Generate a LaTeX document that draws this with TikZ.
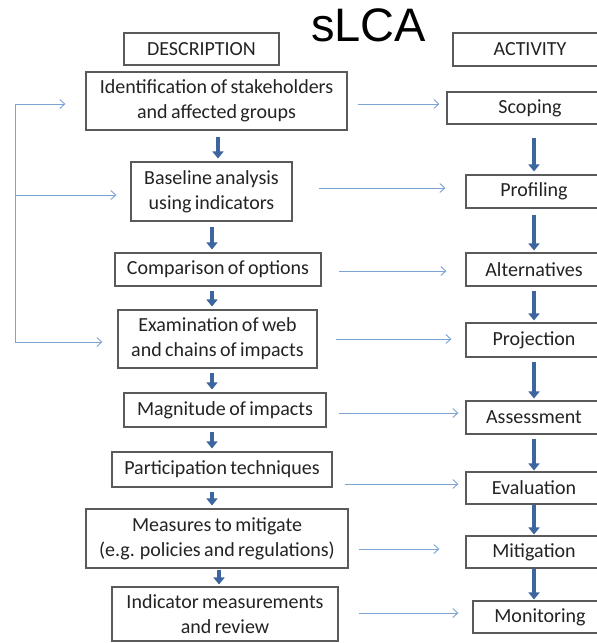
\documentclass[tikz,border=0pt]{standalone}
\usepackage{fontspec}
\setmainfont{Carlito}
\newfontfamily\titlefont{Liberation Sans}
\usetikzlibrary{arrows.meta,calc}
\definecolor{thickblue}{RGB}{62,102,158}
\definecolor{thinblue}{RGB}{125,163,212}
\definecolor{boxline}{RGB}{90,90,90}
\definecolor{boxtext}{RGB}{35,35,35}
\newcommand\myboxfont{\fontsize{20}{25}\selectfont\spaceskip=3.4pt plus 1pt minus 0.5pt\relax}
\begin{document}
\begin{tikzpicture}[x=1pt,y=-1pt,
  box/.style={draw=boxline,line width=1.1pt,fill=white,inner sep=0pt,align=center,
    text=boxtext,font=\myboxfont},
  flowarrow/.style={draw=thickblue,line width=4.5pt,-{Triangle[width=11pt,length=7pt]}},
  linkarrow/.style={draw=thinblue,line width=0.9pt,-{Straight Barb[length=5pt,width=9pt]}},
  linkline/.style={draw=thinblue,line width=0.9pt}]
\useasboundingbox (0,0) rectangle (597,643);
\clip (0,0) rectangle (597,643);
\fill[white] (0,0) rectangle (597,643);
% title
\node[anchor=base,inner sep=0pt,font=\titlefont\fontsize{47}{50}\selectfont] (title) at (368.5,41) {sLCA};
% left column
\node[box,minimum width=155pt,minimum height=32pt] (desc) at (201.5,49) {DESCRIPTION};
\node[box,minimum width=261pt,minimum height=58pt] (n1) at (216.5,101) {Identification of stakeholders\\and affected groups};
\node[box,minimum width=161pt,minimum height=59pt] (n2) at (211.5,191.5) {Baseline analysis\\using indicators};
\node[box,minimum width=206pt,minimum height=33pt] (n3) at (218,269.5) {Comparison of options};
\node[box,minimum width=199pt,minimum height=58pt] (n4) at (217.5,339) {Examination of web\\and chains of impacts};
\node[box,minimum width=202pt,minimum height=34pt] (n5) at (225,410) {Magnitude of impacts};
\node[box,minimum width=220pt,minimum height=35pt] (n6) at (222,469.5) {Participation techniques};
\node[box,minimum width=262pt,minimum height=59pt] (n7) at (217,538.5) {Measures to mitigate\\(e.g. policies and regulations)};
\node[box,minimum width=226pt,minimum height=54pt] (n8) at (225,614) {Indicator measurements\\and review};
% right column
\node[box,minimum width=154pt,minimum height=33pt] (act) at (530,49.5) {ACTIVITY};
\node[box,minimum width=166pt,minimum height=32pt] (r1) at (530,108) {Scoping};
\node[box,minimum width=136pt,minimum height=33pt] (r2) at (534,191.5) {Profiling};
\node[box,minimum width=136pt,minimum height=33pt] (r3) at (534,269.5) {Alternatives};
\node[box,minimum width=136pt,minimum height=34pt] (r4) at (534,340) {Projection};
\node[box,minimum width=136pt,minimum height=33pt] (r5) at (534,417.5) {Assessment};
\node[box,minimum width=136pt,minimum height=32pt] (r6) at (534,488) {Evaluation};
\node[box,minimum width=136pt,minimum height=32pt] (r7) at (534,552) {Mitigation};
\node[box,minimum width=134pt,minimum height=32pt] (r8) at (540,617) {Monitoring};
% left thick arrows
\draw[flowarrow,shorten <=6pt,shorten >=3pt] ([xshift=1.5pt]n1.south) -- ([xshift=1.5pt]n1.south |- n2.north);
\draw[flowarrow,shorten <=5pt,shorten >=3pt] ([xshift=0.5pt]n2.south) -- ([xshift=0.5pt]n2.south |- n3.north);
\draw[flowarrow,shorten <=4pt,shorten >=3pt] ([xshift=-6pt]n3.south) -- ([xshift=-6pt]n3.south |- n4.north);
\draw[flowarrow,shorten <=4pt,shorten >=3pt] ([xshift=-5.5pt]n4.south) -- ([xshift=-5.5pt]n4.south |- n5.north);
\draw[flowarrow,shorten <=4pt,shorten >=3pt] ([xshift=-13pt]n5.south) -- ([xshift=-13pt]n5.south |- n6.north);
\draw[flowarrow,shorten <=4pt,shorten >=3pt] ([xshift=-10pt]n6.south) -- ([xshift=-10pt]n6.south |- n7.north);
\draw[flowarrow,shorten <=1pt,shorten >=2pt] ([xshift=2pt]n7.south) -- ([xshift=2pt]n7.south |- n8.north);
% right thick arrows
\draw[flowarrow,shorten <=13pt,shorten >=3pt] (r2.north |- r1.south) -- (r2.north);
\draw[flowarrow,shorten <=6pt,shorten >=2pt] (r2.south) -- (r3.north);
\draw[flowarrow,shorten <=4pt,shorten >=2pt] (r3.south) -- (r4.north);
\draw[flowarrow,shorten <=4pt,shorten >=2pt] (r4.south) -- (r5.north);
\draw[flowarrow,shorten <=4pt,shorten >=1pt] (r5.south) -- (r6.north);
\draw[flowarrow,shorten <=0.5pt,shorten >=1pt] (r6.south) -- (r7.north);
\draw[flowarrow,shorten <=0.5pt,shorten >=1pt] (r7.south) -- (r8.north -| r7.south);
% thin links
\draw[linkarrow,shorten <=10pt,shorten >=7pt] ([yshift=-3pt]n1.east) -- ([yshift=-3pt]n1.east -| r1.west);
\draw[linkarrow,shorten <=26pt,shorten >=20pt] ([yshift=3.5pt]n2.east) -- ([yshift=3.5pt]n2.east -| r2.west);
\draw[linkarrow,shorten <=17pt,shorten >=19pt] ([yshift=-1.5pt]n3.east) -- ([yshift=-1.5pt]n3.east -| r3.west);
\draw[linkarrow,shorten <=18pt,shorten >=14pt] (n4.east) -- (n4.east -| r4.west);
\draw[linkarrow,shorten <=12pt,shorten >=7pt] ([yshift=-3pt]n5.east) -- ([yshift=-3pt]n5.east -| r5.west);
\draw[linkarrow,shorten <=12pt,shorten >=7pt] ([yshift=-14.5pt]n6.east) -- ([yshift=-14.5pt]n6.east -| r6.west);
\draw[linkarrow,shorten <=10pt,shorten >=26pt] ([yshift=-10.5pt]n7.east) -- ([yshift=-10.5pt]n7.east -| r7.west);
\draw[linkarrow,shorten <=20pt,shorten >=14pt] ([yshift=1pt]n8.east) -- ([yshift=1pt]n8.east -| r8.west);
% feedback line
\coordinate (fbtop) at (15,104);
\coordinate (fbmid) at (15,195);
\coordinate (fbbot) at (15,342);
\draw[linkline] (fbtop) -- (fbbot);
\draw[linkarrow,shorten >=20pt] (fbtop) -- (fbtop -| n1.west);
\draw[linkarrow,shorten >=14pt] (fbmid) -- (fbmid -| n2.west);
\draw[linkarrow,shorten >=15pt] (fbbot) -- (fbbot -| n4.west);
\end{tikzpicture}
\end{document}
